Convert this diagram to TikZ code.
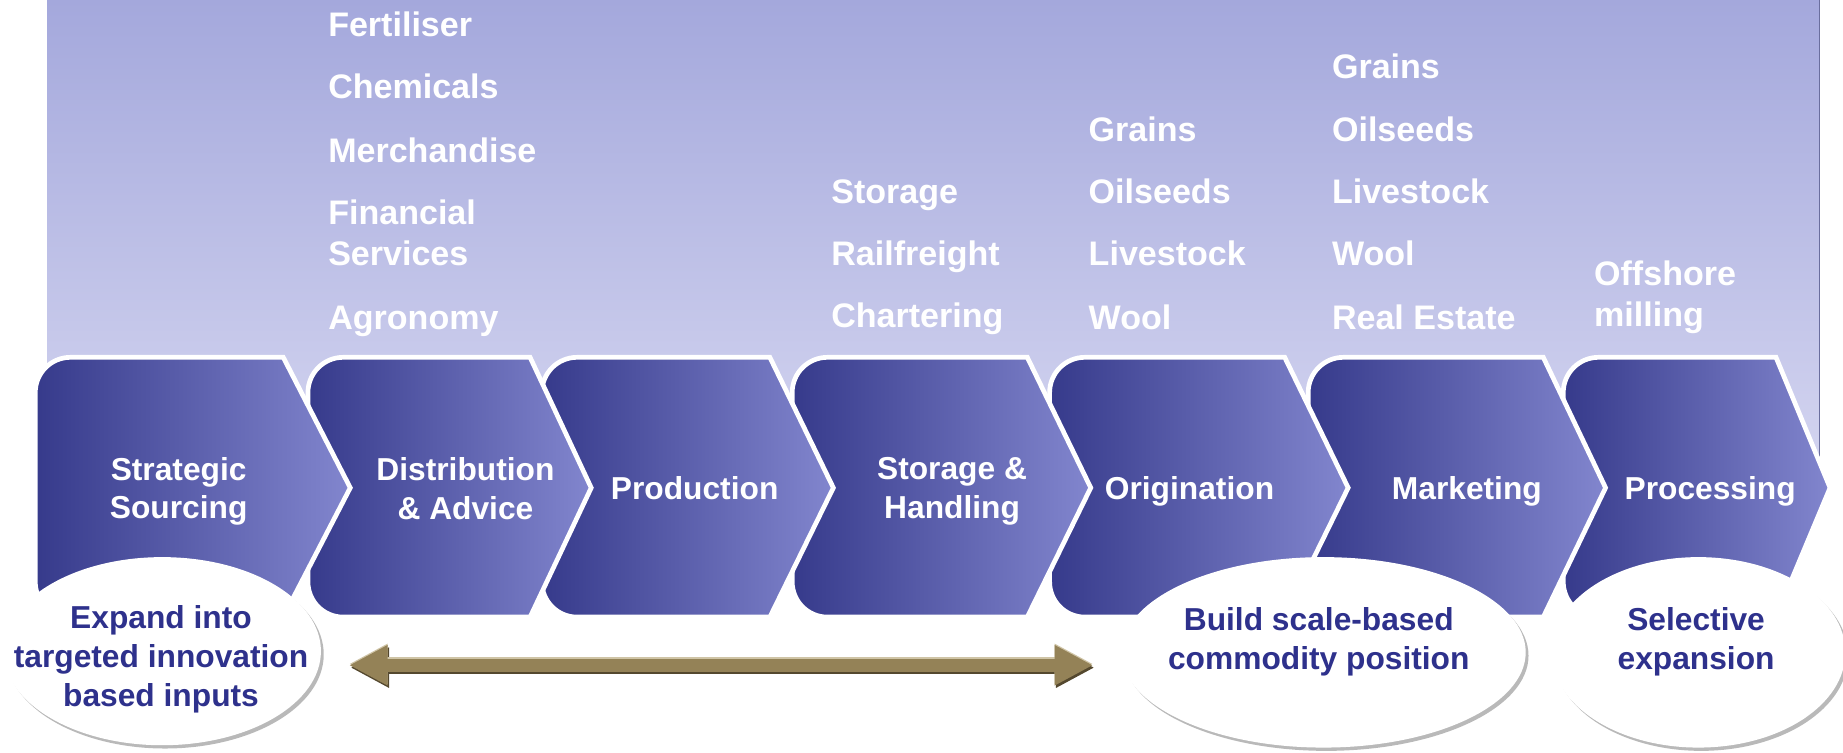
\documentclass[tikz,border=0pt]{standalone}
\usepackage{fontspec}
\setmainfont{Liberation Sans}
\usetikzlibrary{arrows.meta,shapes.geometric,shadows}
\definecolor{bgtop}{HTML}{A4A8DC}
\definecolor{bgbot}{HTML}{D6D7F1}
\definecolor{chdark}{HTML}{363A8B}
\definecolor{chlight}{HTML}{8286CE}
\definecolor{navy}{HTML}{2E318C}
\definecolor{arrmain}{HTML}{948257}
\definecolor{arrlight}{HTML}{CFC4A6}
\definecolor{arrdark}{HTML}{54482E}
\definecolor{bgedge}{HTML}{6A6E9E}
\tikzset{
 chev/.style={left color=chdark, right color=chlight, draw=white, line width=0.1cm, line join=miter},
 chevtxt/.style={text=white, font=\fontsize{19.2}{23.5}\selectfont\bfseries, align=center, inner sep=0},
 uptxt/.style={text=white, font=\fontsize{20.6}{24.5}\selectfont\bfseries, anchor=base west, inner sep=0},
 bubble/.style={ellipse, fill=white, inner sep=0, drop shadow={shadow xshift=0.06cm, shadow yshift=-0.07cm, fill=black!50, opacity=0.55}},
 bubtxt/.style={text=navy, font=\fontsize{19.2}{23.8}\selectfont\bfseries, align=center, inner sep=0},
 bigarrow/.style={line width=0.275cm, {Triangle[length=0.82cm,width=0.8cm]}-{Triangle[length=0.82cm,width=0.8cm]}},
}
\begin{document}
\begin{tikzpicture}[x=0.025cm, y=-0.025cm]
\useasboundingbox (0,0) rectangle (1568,640);
% background panel
\shade[top color=bgtop, bottom color=bgbot] (40,0) rectangle (1548,420);
\draw[bgedge, line width=0.0375cm] (1548,0) -- (1548,420);
% chevrons, right to left
\foreach \n/\L/\R/\T in {7/1330/1511/1557, 6/1113/1313/1366, 5/893/1093/1147, 4/674/874/928, 3/461/655/709, 2/262/451/503, 1/30/241/298}{
 \shadedraw[chev] (\R,304) -- (\T,415) -- (\R,525) -- ({\L+30},525) .. controls ({\L+13.4},525) and (\L,511.6) .. (\L,495) -- (\L,334) .. controls (\L,317.4) and ({\L+13.4},304) .. ({\L+30},304) -- cycle;
}
% chevron labels
\node[chevtxt] (c1) at (152,418) {Strategic\\Sourcing};
\node[chevtxt] (c2) at (396,416) {Distribution\\\& Advice};
\node[chevtxt] (c3) at (591,415) {Production};
\node[chevtxt] (c4) at (810,418) {Storage \&\\Handling};
\node[chevtxt] (c5) at (1012,418) {Origination};
\node[chevtxt] (c6) at (1248,418) {Marketing};
\node[chevtxt] (c7) at (1455,418) {Processing};
% upper labels
\node[uptxt] (u1a) at (279,31) {Fertiliser};
\node[uptxt] (u1b) at (279,84) {Chemicals};
\node[uptxt] (u1c) at (279,138) {Merchandise};
\node[uptxt] (u1d) at (279,191) {Financial};
\node[uptxt] (u1e) at (279,226) {Services};
\node[uptxt] (u1f) at (279,280) {Agronomy};
\node[uptxt] (u2a) at (707,173) {Storage};
\node[uptxt] (u2b) at (707,226) {Railfreight};
\node[uptxt] (u2c) at (707,279) {Chartering};
\node[uptxt] (u3a) at (926,120) {Grains};
\node[uptxt] (u3b) at (926,173) {Oilseeds};
\node[uptxt] (u3c) at (926,226) {Livestock};
\node[uptxt] (u3d) at (926,280) {Wool};
\node[uptxt] (u4a) at (1133,67) {Grains};
\node[uptxt] (u4b) at (1133,120) {Oilseeds};
\node[uptxt] (u4c) at (1133,173) {Livestock};
\node[uptxt] (u4d) at (1133,226) {Wool};
\node[uptxt] (u4e) at (1133,280) {Real Estate};
\node[uptxt] (u5a) at (1356,243) {Offshore};
\node[uptxt] (u5b) at (1356,278) {milling};
% bubbles
\node[bubble, minimum width=6.75cm, minimum height=4cm] (e1) at (138,554) {};
\node[bubble, minimum width=8.6cm, minimum height=4.05cm] (e2) at (1126,555) {};
\node[bubble, minimum width=6.25cm, minimum height=4.05cm] (e3) at (1445,555) {};
\node[bubtxt] (t1) at (137,561) {Expand into\\targeted innovation\\based inputs};
\node[bubtxt] (t2) at (1122,546) {Build scale-based\\commodity position};
\node[bubtxt] (t3) at (1443,546) {Selective\\expansion};
% double arrow
\coordinate (aL) at (297,566);
\coordinate (aR) at (930,566);
\draw[bigarrow, arrdark, transform canvas={xshift=0.03cm, yshift=-0.05cm}] (aL) -- (aR);
\draw[bigarrow, arrlight, transform canvas={yshift=0.03cm}] (aL) -- (aR);
\draw[bigarrow, arrmain] (aL) -- (aR);
\end{tikzpicture}
\end{document}
